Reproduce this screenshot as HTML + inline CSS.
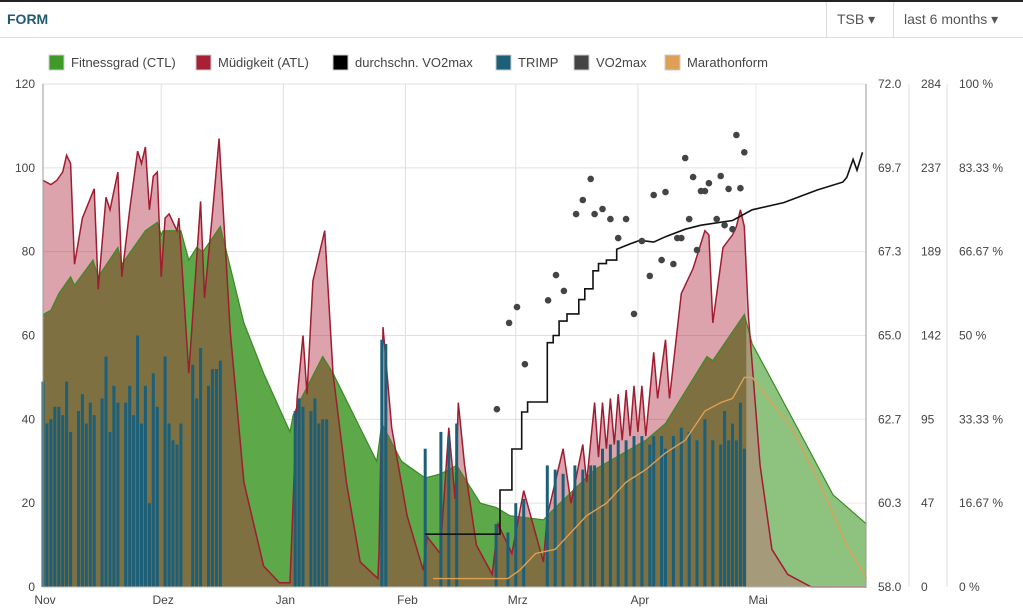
<!DOCTYPE html>
<html><head><meta charset="utf-8">
<style>
body{margin:0;background:#fff;font-family:"Liberation Sans","DejaVu Sans",sans-serif;}
#wrap{position:relative;width:1023px;height:611px;overflow:hidden;background:#fff;border-top:2px solid #222;box-sizing:border-box;}
#hdr{position:absolute;left:0;top:0;width:1023px;height:35px;border-bottom:1px solid #d8dde2;}
#title{position:absolute;left:7px;top:9px;font-weight:bold;font-size:14px;color:#1f5a73;}
.dd{position:absolute;top:0;height:35px;line-height:34px;font-size:14px;color:#555;border-left:1px solid #d8dde2;padding:0 10px;box-sizing:border-box;}
svg{position:absolute;left:0;top:0;}
text{font-family:"Liberation Sans","DejaVu Sans",sans-serif;}
</style></head>
<body>
<div id="wrap">
<div id="hdr">
<div id="title">FORM</div>
<div class="dd" style="left:826px;width:67px;">TSB ▾</div>
<div class="dd" style="left:893px;width:130px;">last 6 months ▾</div>
</div>
<svg id="chart" width="1023" height="611"></svg>
</div>
<script>
// ---- data ----
const monthLabels=["Nov","Dez","Jan","Feb","Mrz","Apr","Mai"];
const monthStartDays=[0,30,61,92,120,151,181];
const leftTicks=[0,20,40,60,80,100,120];
const vo2Ticks=["58.0","60.3","62.7","65.0","67.3","69.7","72.0"];
const trimpTicks=["0","47","95","142","189","237","284"];
const pctTicks=["0 %","16.67 %","33.33 %","50 %","66.67 %","83.33 %","100 %"];
const ctlDays=[0,2,4,7,8,12.7,14,19,20,26,29,30,30.5,35,37,39,40.6,45,51,56,62.7,63.5,65,71,73.6,81,84.7,86,91,97,101,105,111,115,118.5,127,129,140,153,158,168.5,170,178,180,184,192,200.5,209];
const ctlVals=[65,66,70,74,72,78,74,81,77,85,87,84,85,85,78,81,80,86,63,51,37,41,44,55,51,37,30,39,30,26,27,29,20,19,17,16,18,28,35,39,55,54,65,58,51,37,22,15];
const atlDays=[0,2,3.5,5,6,7,8,10,13,14,16,17,19,20,22,24,25,26,27,28,29,30,31,32,34,34.5,37,40,41,43,44.7,47.5,51,56,60,62.7,64.5,66,67,68.5,71.5,73.6,77,80.5,85,85.3,86.3,88.5,92.4,96.5,97.5,100.8,103,104.6,105.4,107,110,114,115.5,119,122,127,128,132,134,137,138,140,141,142,143,144,145,146,147,148,149,150,151,152,153,155,156,158,159,162,165,168,169,170,172.6,175,176,177,178,179,182,185,189,195,209];
const atlVals=[97,96,97,99,103,101,77,88,95,71,93,90,99,74,90,104,101,105,90,98,99,74,88,89,85,88,51,92,69,89,107,61,25,5,1,1,45,60,46,73,85,51,25,6,2,9,62,38,17,4,12,8,38,21,44,29,10,3,15,8,23,6,17,33,20,34,25,44,31,44,33,45,34,46,35,47,36,48,37,48,36,56,45,59,45,70,76,85,84,63,81,84,86,90,86,65,29,9,3,0,0];
const trimpDays=[0,1,2,3,4,5,6,7,9,10,11,12,13,15,16,17,18,19,21,22,23,24,25,26,27,28,29,31,32,33,34,35,38,39,40,42,43,44,45,64,65,66,68,69,70,71,72,86,87,97,101,103,105,115,118,120,122,128,130,132,135,137,139,140,142,144,146,148,150,152,154,155,157,158,160,162,164,166,168,170,172,173,174,175,176,177,178];
const trimpVals=[49,39,40,43,43,41,49,37,42,46,39,44,41,45,55,37,48,44,44,48,41,60,39,48,20,51,43,55,39,35,34,39,53,45,57,48,52,52,54,42,45,43,42,45,39,40,40,59,58,33,37,36,39,15,13,20,21,29,28,27,29,28,29,29,33,34,35,35,36,36,34,36,36,33,36,38,37,35,40,35,34,42,35,39,35,44,33];
const avgVo2Days=[97,115,116,118,119,120.5,121.5,123,127,128,129.5,131,133,135,136,137.5,139.6,141,143,145.6,149,151.5,155,158,163,167,175,180,188,196.5,203,204,205.6,206.6,208];
const avgVo2Vals=[59.47,59.47,60.7,60.7,61.84,61.84,62.87,63.15,63.15,64.8,65.0,65.4,65.6,65.6,66.0,66.3,66.8,67.0,67.1,67.4,67.55,67.65,67.6,67.75,67.96,68.07,68.2,68.5,68.7,69.05,69.27,69.4,69.9,69.6,70.1];
const vo2Days=[115.2,118.3,120.3,122.3,128.2,130.2,132.2,135.3,137,139,140,142,144,146,148,150,152,154,155,157,158,160,161,162,163,164,165,166,167,168,169,171,172,173,174,175,176,177,178];
const vo2Vals=[62.95,65.35,65.79,64.2,65.98,66.68,66.24,68.38,68.77,69.36,68.38,68.52,68.24,67.71,68.24,65.6,67.63,66.66,68.91,67.1,68.99,66.99,67.71,67.71,69.94,68.24,69.41,67.38,69.02,69.02,69.24,68.24,69.44,68.07,69.08,67.96,70.58,69.1,70.1];
const mfDays=[99,118,121,125,130,133,138,143,148,153,158,163,168,172,175,178,180,184,190,197,204,209];
const mfVals=[2,2,4,8,9,12,17,20,25,28,32,35,42,44,45,50,50,45,38,25,10,2];
const legendNames=["Fitnessgrad (CTL)","Müdigkeit (ATL)","durchschn. VO2max","TRIMP","VO2max","Marathonform"];
const legendColors=["#3f9a2a","#a82035","#000000","#1c5f78","#444444","#dda055"];

// ---- scales ----
const X0=43,X1=866,Y0=585,Y1=82;
const PXD=3.94;
function X(d){return X0+d*PXD;}
function Y(v){return Y0-(v/120)*(Y0-Y1);}
function YV(v){return Y0-((v-58)/14)*(Y0-Y1);}
const NS="http://www.w3.org/2000/svg";
const svg=document.getElementById('chart');
function mk(tag,attrs,parent){const e=document.createElementNS(NS,tag);for(const k in attrs)e.setAttribute(k,attrs[k]);(parent||svg).appendChild(e);return e;}

for(let i=0;i<leftTicks.length;i++){
  const y=Y(leftTicks[i]);
  const g=mk('line',{x1:X0,x2:X1,y1:y,y2:y,stroke:'#e0e0e0','stroke-width':1});
  
  
}
for(let i=0;i<monthStartDays.length;i++){
  const x=X(monthStartDays[i]);
  const g=mk('line',{x1:x,x2:x,y1:Y1,y2:Y0,stroke:'#e0e0e0','stroke-width':1});
  
  
}
function areaPath(days,vals,yf){
  let d='M'+X(days[0])+','+Y0;
  for(let i=0;i<days.length;i++)d+=' L'+X(days[i]).toFixed(1)+','+yf(vals[i]).toFixed(1);
  d+=' L'+X(days[days.length-1])+','+Y0+' Z';return d;
}
function linePath(days,vals,yf){
  let d='';for(let i=0;i<days.length;i++)d+=(i?' L':'M')+X(days[i]).toFixed(1)+','+yf(vals[i]).toFixed(1);return d;
}
const ctlA=mk('path',{d:areaPath(ctlDays,ctlVals,Y),fill:'#5da848'});


const atlA=mk('path',{d:areaPath(atlDays,atlVals,Y),fill:'rgba(172,36,58,0.42)'});


const fc=mk('rect',{x:X(178.5),y:Y1,width:X1-X(178.5),height:Y0-Y1,fill:'rgba(255,255,255,0.3)'});


const ctlL=mk('path',{d:linePath(ctlDays,ctlVals,Y),fill:'none',stroke:'#3c8a26','stroke-width':1.2});


const atlL=mk('path',{d:linePath(atlDays,atlVals,Y),fill:'none',stroke:'#a01c30','stroke-width':1.5});


for(let i=0;i<trimpDays.length;i++){
  const b=mk('rect',{x:(X(trimpDays[i])-1.5).toFixed(1),y:Y(trimpVals[i]).toFixed(1),width:3,height:(Y0-Y(trimpVals[i])).toFixed(1),fill:'#1c5f78'});
  
  
}
const mf=mk('path',{d:linePath(mfDays,mfVals,Y),fill:'none',stroke:'#dda055','stroke-width':1.4});


let sd='';
for(let i=0;i<avgVo2Days.length;i++){
  const x=X(avgVo2Days[i]).toFixed(1),y=YV(avgVo2Vals[i]).toFixed(1);
  if(i===0)sd='M'+x+','+y;
  else if(avgVo2Days[i]<146){sd+=' L'+x+','+YV(avgVo2Vals[i-1]).toFixed(1)+' L'+x+','+y;}
  else sd+=' L'+x+','+y;
}
const av=mk('path',{d:sd,fill:'none',stroke:'#111','stroke-width':1.6});


for(let i=0;i<vo2Days.length;i++){
  const c=mk('circle',{cx:X(vo2Days[i]).toFixed(1),cy:YV(vo2Vals[i]).toFixed(1),r:3.3,fill:'#444'});
  
  
}
const la=mk('line',{x1:X0,x2:X0,y1:Y1,y2:Y0,stroke:'#999'});


const ba=mk('line',{x1:X0,x2:X1,y1:Y0,y2:Y0,stroke:'#bbb'});


const ra=mk('line',{x1:X1,x2:X1,y1:Y1,y2:Y0,stroke:'#999'});


const ra2=mk('line',{x1:909,x2:909,y1:Y1,y2:Y0,stroke:'#ddd'});


const ra3=mk('line',{x1:947,x2:947,y1:Y1,y2:Y0,stroke:'#ddd'});


for(let i=0;i<leftTicks.length;i++){
  const t=mk('text',{x:35,y:Y(leftTicks[i])+4,'text-anchor':'end','font-size':12,fill:'#444'});
  t.textContent=leftTicks[i];
  
  
}
for(let i=0;i<vo2Ticks.length;i++){
  const y=Y0-i*(Y0-Y1)/6;
  const a=mk('text',{x:878,y:y+4,'font-size':12,fill:'#444'});a.textContent=vo2Ticks[i];
  
  
  const b=mk('text',{x:921,y:y+4,'font-size':12,fill:'#444'});b.textContent=trimpTicks[i];
  
  
  const c=mk('text',{x:959,y:y+4,'font-size':12,fill:'#444'});c.textContent=pctTicks[i];
  
  
}
for(let i=0;i<monthLabels.length;i++){
  const t=mk('text',{x:X(monthStartDays[i])+2,y:602,'text-anchor':'middle','font-size':12,fill:'#444'});
  t.textContent=monthLabels[i];
  
  
}
const legX=[49,196,333,496,574,665];
for(let i=0;i<legendNames.length;i++){
  const g=mk('g',{});
  
  
  mk('rect',{x:legX[i],y:53,width:15,height:15,fill:legendColors[i],stroke:'#ccc'},g);
  const t=mk('text',{x:legX[i]+22,y:65,'font-size':13,fill:'#444'},g);t.textContent=legendNames[i];
}
</script>
</body></html>
